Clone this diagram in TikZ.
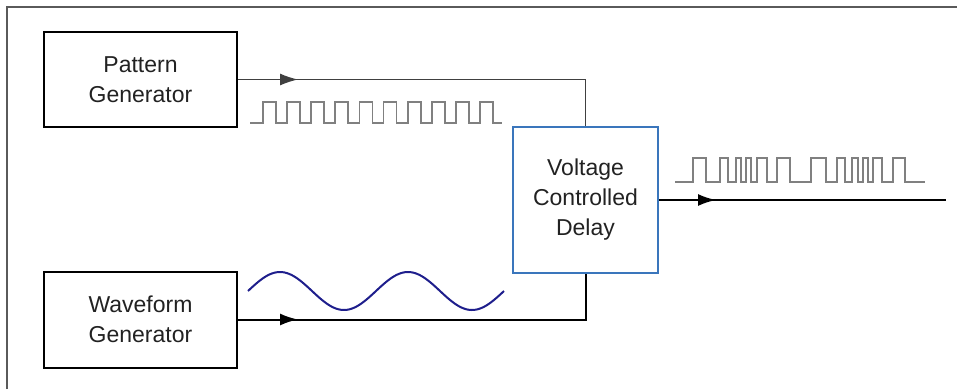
\documentclass[tikz,border=0pt]{standalone}
\usepackage{fontspec}
\setmainfont{Liberation Sans}
\usetikzlibrary{arrows.meta,decorations.markings}
\definecolor{vcdblue}{RGB}{58,118,188}
\definecolor{sineblue}{RGB}{30,30,140}
\definecolor{wavegray}{RGB}{128,128,128}
\definecolor{txt}{RGB}{34,34,34}
\tikzset{
  blockbox/.style={draw=black, line width=2pt, fill=white, align=center, text=txt,
    font=\fontsize{23}{30}\selectfont, inner sep=0pt},
  arrowat/.style={postaction={decorate}, decoration={markings,
    mark=at position #1 with {\arrow{Latex[length=18pt,width=12pt]}}}},
  thinwire/.style={draw={rgb,255:red,64;green,64;blue,64}, line width=1.3pt},
  thickwire/.style={draw=black, line width=2pt},
  sqwave/.style={draw=wavegray, line width=1.8pt, line join=miter},
}
\begin{document}
\begin{tikzpicture}[x=1pt,y=-1pt]
\useasboundingbox (0,0) rectangle (959,389);
% outer frame (partial)
\draw[draw={rgb,255:red,90;green,90;blue,90}, line width=1.5pt] (7,389) -- (7,7) -- (957,7);
% blocks
\node[blockbox, minimum width=193pt, minimum height=95pt] (PG) at (140.5,79.5) {Pattern\\Generator};
\node[blockbox, minimum width=193pt, minimum height=96pt] (WG) at (140.5,319.5) {Waveform\\Generator};
\node[blockbox, draw=vcdblue, minimum width=145pt, minimum height=146pt] (VCD) at (585.5,200) {Voltage\\Controlled\\Delay};
% output end
\coordinate (OUT) at (946,200);
% connectors
\draw[thinwire, arrowat=60pt] (PG.east) -- (PG.east -| VCD.north) -- (VCD.north);
\draw[thickwire, arrowat=60pt] (WG.east) -- (WG.east -| VCD.south) -- (VCD.south);
\draw[thickwire, arrowat=57pt] (VCD.east) -- (OUT);
% input square wave
\draw[sqwave] (250,123) foreach \k in {0,...,9} {
  -- ({263+24.1*\k},123) -- ({263+24.1*\k},102) -- ({276+24.1*\k},102) -- ({276+24.1*\k},123) } -- (502,123);
% output square wave
\draw[sqwave] (675,182) foreach \a/\b in {693/706,720/728,736/741,746/751,757/767,777/790,811/826,837/845,852/858,863/868,873/882,893/905} {
  -- (\a,182) -- (\a,158) -- (\b,158) -- (\b,182) } -- (925,182);
% sine wave
\draw[sineblue, line width=2pt] plot[domain=0:256, samples=120, smooth] ({248+\x}, {291-19*sin(\x*2.8125)});
\end{tikzpicture}
\end{document}
